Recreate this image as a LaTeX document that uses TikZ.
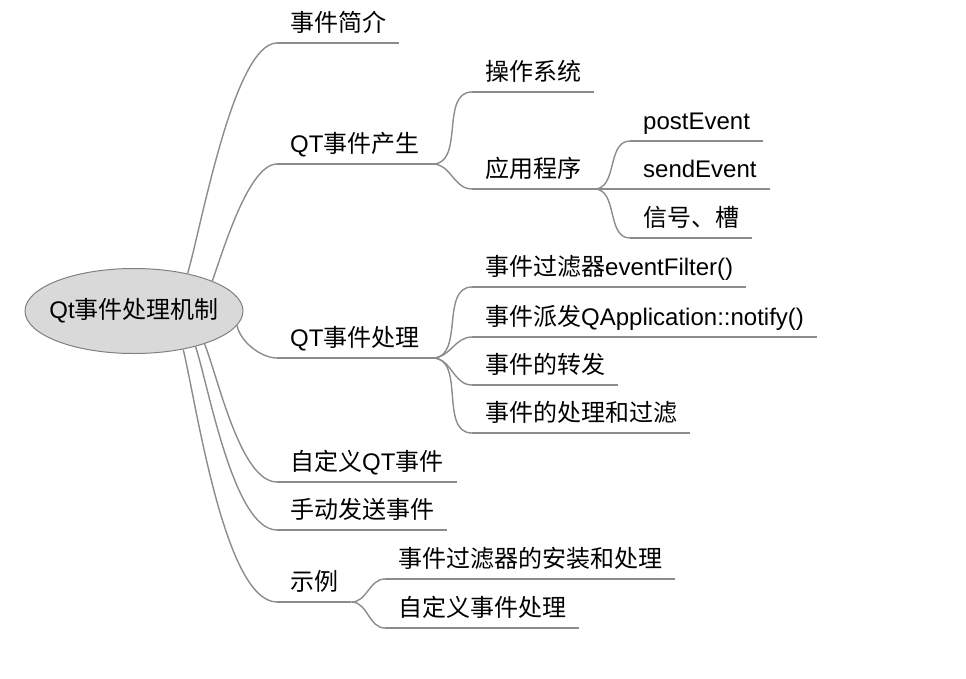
\documentclass[tikz,border=0pt]{standalone}
\usepackage{fontspec}
\setmainfont{Liberation Sans}
\newfontfamily\cjk{Noto Sans CJK SC}
\usetikzlibrary{shapes.geometric}

\tikzset{
  topic/.style={anchor=south west, inner xsep=13pt, inner ysep=11pt,
    text depth=0pt, font=\fontsize{24}{24}\selectfont},
  rootnode/.style={ellipse, draw=black!50, fill=black!15, line width=1pt,
    minimum width=218pt, minimum height=85pt, inner sep=0pt,
    font=\fontsize{24}{24}\selectfont},
  link/.style={draw=black!45, line width=1.4pt},
}

\begin{document}
\begin{tikzpicture}[x=1pt,y=-1pt]
    \useasboundingbox (0,0) rectangle (966,678);
    \node[rootnode] (root) at (134,311) {\makebox[0pt]{Qt{\cjk 事件处理机制}}};

    % first level
    \node[topic] (jj) at (277,43) {\cjk 事件简介};
    \node[topic] (cs) at (277,164) {QT{\cjk 事件产生}};
    \node[topic] (cl) at (277,358) {QT{\cjk 事件处理}};
    \node[topic] (zdy) at (277,482) {{\cjk 自定义}QT{\cjk 事件}};
    \node[topic] (sd) at (277,530) {\cjk 手动发送事件};
    \node[topic] (sl) at (277,602) {\cjk 示例};

    % QT event sources
    \node[topic] (os) at (472,92) {\cjk 操作系统};
    \node[topic] (app) at (472,189) {\cjk 应用程序};
    \node[topic] (post) at (630,141) {postEvent};
    \node[topic] (send) at (630,189) {sendEvent};
    \node[topic] (sig) at (630,238) {\cjk 信号、槽};

    % handling
    \node[topic] (filt) at (472,287) {{\cjk 事件过滤器}eventFilter()};
    \node[topic] (notify) at (472,337) {{\cjk 事件派发}QApplication::notify()};
    \node[topic] (fwd) at (472,385) {\cjk 事件的转发};
    \node[topic] (hand) at (472,433) {\cjk 事件的处理和过滤};

    % examples
    \node[topic] (inst) at (385,579) {\cjk 事件过滤器的安装和处理};
    \node[topic] (cust) at (385,628) {\cjk 自定义事件处理};

    \foreach \n in {jj,cs,cl,zdy,sd,sl,os,app,post,send,sig,filt,notify,fwd,hand,inst,cust}
        \draw[link] (\n.south west) -- (\n.south east);

    \draw[link] (root.35) to[out=73,in=180,looseness=.45] (jj.south west);
    \draw[link] (root.21) to[out=70,in=180,looseness=.55] (cs.south west);
    \draw[link] (root.-8) to[out=-80,in=180,looseness=.8] (cl.south west);
    \draw[link] (root.-25) to[out=-68,in=180,looseness=.6] (zdy.south west);
    \draw[link] (root.-30) to[out=-72,in=180,looseness=.55] (sd.south west);
    \draw[link] (root.-38) to[out=-76,in=180,looseness=.5] (sl.south west);

    \foreach \a/\b in {cs/os,cs/app,app/post,app/send,app/sig,cl/filt,cl/notify,cl/fwd,cl/hand,sl/inst,sl/cust}
        \draw[link] (\a.south east) to[out=0,in=180] (\b.south west);
\end{tikzpicture}
\end{document}
